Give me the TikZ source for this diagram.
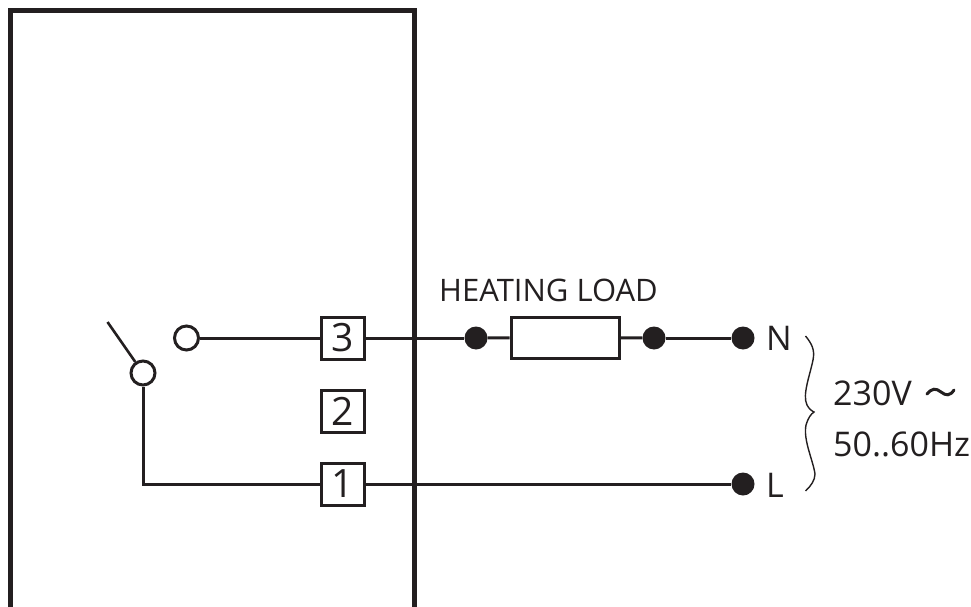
\documentclass[tikz,border=0pt]{standalone}
\usepackage{fontspec}
\setmainfont{Open Sans}
\definecolor{ink}{HTML}{231F20}
\tikzset{
  wire/.style={draw=ink,line width=3pt},
  wall/.style={draw=ink,line width=4.5pt},
  term/.style={draw=ink,line width=3pt,fill=white,minimum width=43pt,minimum height=42pt,inner sep=0pt,text=ink,font=\fontsize{39}{39}\selectfont},
  openc/.style={circle,draw=ink,line width=3pt,fill=white,minimum size=24pt,inner sep=0pt},
  dotc/.style={circle,fill=ink,minimum size=23pt,inner sep=0pt},
  lab/.style={anchor=base west,inner sep=0pt,text=ink,font=\fontsize{34}{34}\selectfont}
}
\begin{document}
\begin{tikzpicture}[x=1pt,y=-1pt]
\useasboundingbox (0,0) rectangle (971,607);
\fill[white] (0,0) rectangle (971,607);
% housing
\coordinate (bl) at (10.5,607);
\coordinate (tl) at (10.5,10.5);
\coordinate (tr) at (414.5,10.5);
\coordinate (br) at (414.5,607);
\draw[wall,miter limit=10] (bl) -- (tl) -- (tr) -- (br);
% nodes
\node[term] (t3) at (343,338) {3};
\node[term] (t2) at (343,411) {2};
\node[term] (t1) at (343,484) {1};
\node[openc] (c3) at (186.5,338) {};
\node[openc] (c1) at (143,373) {};
\coordinate (sw) at (107.5,322);
\coordinate (corner) at (143,484);
\node[dotc] (d1) at (476,338) {};
\node[dotc] (d2) at (654,338) {};
\node[dotc] (dn) at (743,338) {};
\node[dotc] (dl) at (743,484) {};
\node[draw=ink,line width=3pt,fill=white,minimum width=108pt,minimum height=41pt,inner sep=0pt] (load) at (565,337.5) {};
% wires
\draw[wire] (c3) -- (t3);
\draw[wire] (t3) -- (d1);
\draw[wire] (d1) -- (load);
\draw[wire] (load) -- (d2);
\draw[wire] (d2) -- (dn);
\draw[wire] (c1) -- (corner) -- (t1);
\draw[wire] (t1) -- (dl);
\draw[draw=ink,line width=2.6pt] (sw) -- (c1);
% labels
\node[lab] (hl) at (439,301) {\fontsize{31}{31}\selectfont HEATING LOAD};
\node[lab] (nn) at (766,350) {N};
\node[lab] (ll) at (766,497) {L};
\node[lab] (v) at (833,405) {230V};
\node[lab] (hz) at (833,456) {50..60Hz};
\draw[draw=ink,line width=3pt,line cap=round] (927,394) .. controls (932,388) and (936,388) .. (941,392) .. controls (946,396) and (950,396) .. (954,390);
% brace
\draw[draw=ink,line width=1.4pt] (805.5,336) .. controls (812,344) and (815,350) .. (813,360)
  .. controls (810,375) and (802,395) .. (807,405) .. controls (809,409) and (812,411) .. (814,412)
  .. controls (811,414) and (808,418) .. (806,425) .. controls (803,440) and (813,460) .. (815,474)
  .. controls (815,480) and (811,486) .. (805.5,491);
\end{tikzpicture}
\end{document}
